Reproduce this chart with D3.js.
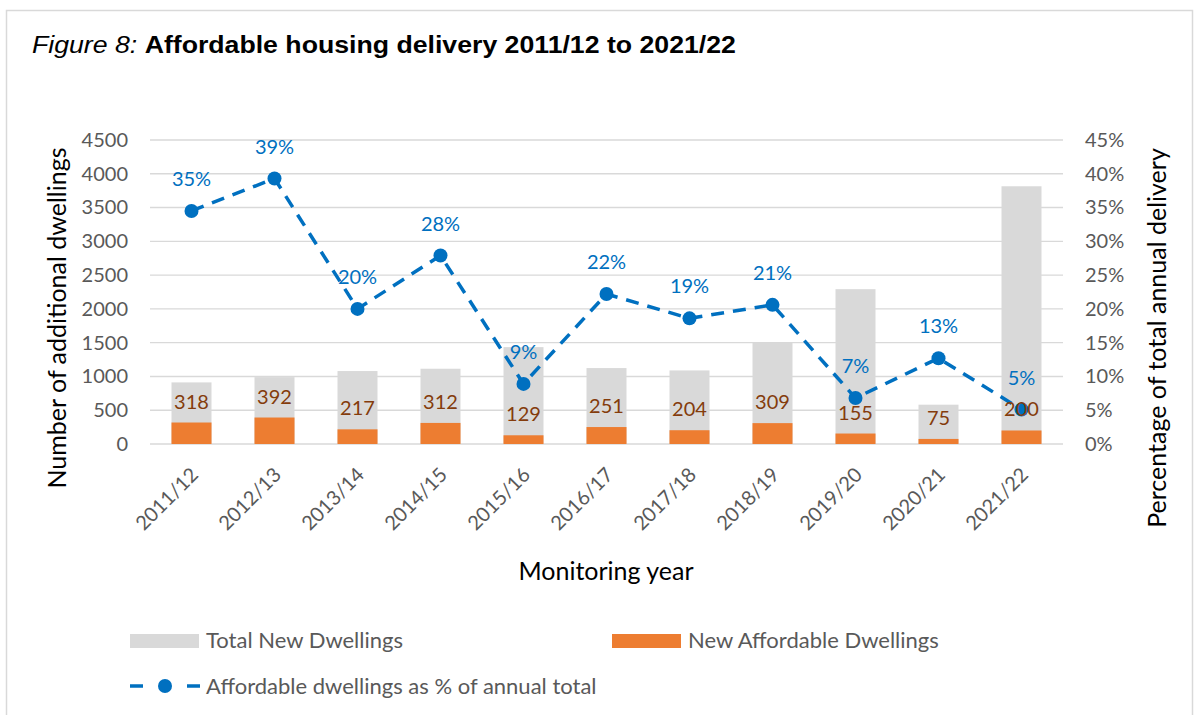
<!DOCTYPE html>
<html>
<head>
<meta charset="utf-8">
<script src="https://cdn.jsdelivr.net/npm/d3@7"></script>
<style>
  body { margin: 0; background: #fff; }
  svg { display: block; }
</style>
</head>
<body>
<div id="chart"></div>
<script>
// monitoring years
const years = ["2011/12","2012/13","2013/14","2014/15","2015/16","2016/17","2017/18","2018/19","2019/20","2020/21","2021/22"];
// total new dwellings
const totalDwellings = [912, 990, 1080, 1114, 1434, 1124, 1089, 1503, 2292, 582, 3815];
// new affordable dwellings (orange bars)
const affordableDwellings = [318, 392, 217, 312, 129, 251, 204, 309, 155, 75, 200];
// affordable as share of total (line)
const affordablePct = [0.345, 0.393, 0.20, 0.279, 0.089, 0.222, 0.186, 0.206, 0.068, 0.127, 0.051];
const pctLabels = ["35%","39%","20%","28%","9%","22%","19%","21%","7%","13%","5%"];
const leftTicks = [0,500,1000,1500,2000,2500,3000,3500,4000,4500];
const rightTicks = [0,0.05,0.10,0.15,0.20,0.25,0.30,0.35,0.40,0.45];

const W = 1199, H = 715;
const plot = {left: 150, right: 1063, top: 140, bottom: 444};
const font = "Lato, 'Open Sans', sans-serif";

const svg = d3.select("#chart").append("svg")
    .attr("width", W).attr("height", H);

svg.append("rect").attr("width", W).attr("height", H).attr("fill", "#fff");
// outer chart frame
svg.append("rect")
    .attr("x", 6.5).attr("y", 10.5)
    .attr("width", 1186).attr("height", 720)
    .attr("fill", "none").attr("stroke", "#d9d9d9").attr("stroke-width", 1.5);

// title (source text is a bit wide, so stretch horizontally)
const title = svg.append("text")
    .attr("transform", "translate(32,53) scale(1.16,1)")
    .attr("font-family", "'Liberation Sans', Arial, sans-serif")
    .attr("font-size", 23).attr("fill", "#000");
title.append("tspan").attr("font-style", "italic").text("Figure 8: ");
title.append("tspan").attr("font-weight", "bold").text("Affordable housing delivery 2011/12 to 2021/22");

const x = d3.scaleBand().domain(years)
    .range([plot.left, plot.right])
    .paddingInner(0.518).paddingOuter(0.259);
const y = d3.scaleLinear().domain([0, 4500]).range([plot.bottom, plot.top]);
const yPct = d3.scaleLinear().domain([0, 0.45]).range([plot.bottom, plot.top]);

// gridlines
svg.append("g").selectAll("line").data(leftTicks).join("line")
    .attr("x1", plot.left).attr("x2", plot.right)
    .attr("y1", d => y(d)).attr("y2", d => y(d))
    .attr("stroke", "#d9d9d9").attr("stroke-width", 1.4);

// left axis
const leftAxis = svg.append("g")
    .attr("transform", "translate(" + plot.left + ",0)")
    .call(d3.axisLeft(y).tickValues(leftTicks).tickSize(0).tickPadding(22).tickFormat(d3.format("d")));
leftAxis.select(".domain").remove();
leftAxis.selectAll("text").attr("font-family", font).attr("font-size", 20).attr("fill", "#595959");

// right axis
const rightAxis = svg.append("g")
    .attr("transform", "translate(" + plot.right + ",0)")
    .call(d3.axisRight(yPct).tickValues(rightTicks).tickSize(0).tickPadding(22).tickFormat(d3.format(".0%")));
rightAxis.select(".domain").remove();
rightAxis.selectAll("text").attr("font-family", font).attr("font-size", 20).attr("fill", "#595959");

// x axis labels
const xAxis = svg.append("g")
    .attr("transform", "translate(0," + plot.bottom + ")")
    .call(d3.axisBottom(x).tickSize(0).tickPadding(0));
xAxis.select(".domain").remove();
xAxis.selectAll("text")
    .attr("font-family", font).attr("font-size", 20).attr("fill", "#595959")
    .attr("text-anchor", "end")
    .attr("dy", null).attr("y", 0)
    .attr("transform", "translate(8,32) rotate(-45)");

// bars
const bars = svg.append("g");
bars.selectAll(".totalBar").data(years).join("rect")
    .attr("class", "totalBar")
    .attr("x", d => x(d)).attr("width", x.bandwidth())
    .attr("y", (d, i) => y(totalDwellings[i]))
    .attr("height", (d, i) => y(0) - y(totalDwellings[i]))
    .attr("fill", "#d9d9d9");
bars.selectAll(".affBar").data(years).join("rect")
    .attr("class", "affBar")
    .attr("x", d => x(d)).attr("width", x.bandwidth())
    .attr("y", (d, i) => y(affordableDwellings[i]))
    .attr("height", (d, i) => y(0) - y(affordableDwellings[i]))
    .attr("fill", "#ed7d31");

// line
const cx = d => x(d) + x.bandwidth() / 2;
const line = d3.line().x(d => cx(d)).y((d, i) => yPct(affordablePct[i]));
svg.append("path").datum(years)
    .attr("d", line)
    .attr("fill", "none").attr("stroke", "#0070c0")
    .attr("stroke-width", 3.5).attr("stroke-dasharray", "13,9");
svg.append("g").selectAll("circle").data(years).join("circle")
    .attr("cx", d => cx(d)).attr("cy", (d, i) => yPct(affordablePct[i]))
    .attr("r", 7).attr("fill", "#0070c0");

// bar value labels
svg.append("g").selectAll("text").data(years).join("text")
    .attr("x", d => cx(d)).attr("y", (d, i) => y(affordableDwellings[i]) - 14)
    .attr("text-anchor", "middle")
    .attr("font-family", font).attr("font-size", 20).attr("fill", "#843c0c")
    .text((d, i) => affordableDwellings[i]);

// percent labels
svg.append("g").selectAll("text").data(years).join("text")
    .attr("x", d => cx(d)).attr("y", (d, i) => yPct(affordablePct[i]) - 25)
    .attr("text-anchor", "middle")
    .attr("font-family", font).attr("font-size", 20).attr("fill", "#0070c0")
    .text((d, i) => pctLabels[i]);

// axis titles
svg.append("text")
    .attr("transform", "translate(66,318) rotate(-90)")
    .attr("text-anchor", "middle")
    .attr("font-family", font).attr("font-size", 25).attr("fill", "#000")
    .text("Number of additional dwellings");
svg.append("text")
    .attr("transform", "translate(1166,338) rotate(-90)")
    .attr("text-anchor", "middle")
    .attr("font-family", font).attr("font-size", 25).attr("fill", "#000")
    .text("Percentage of total annual delivery");
svg.append("text")
    .attr("x", 606).attr("y", 580)
    .attr("text-anchor", "middle")
    .attr("font-family", font).attr("font-size", 25).attr("fill", "#000")
    .text("Monitoring year");

// legend
const legend = svg.append("g").attr("font-family", font).attr("font-size", 22).attr("fill", "#595959");
legend.append("rect").attr("x", 130).attr("y", 634).attr("width", 69).attr("height", 14).attr("fill", "#d9d9d9");
legend.append("text").attr("x", 206).attr("y", 648).text("Total New Dwellings");
legend.append("rect").attr("x", 612).attr("y", 634).attr("width", 69).attr("height", 14).attr("fill", "#ed7d31");
legend.append("text").attr("x", 688).attr("y", 648).text("New Affordable Dwellings");
legend.append("line").attr("x1", 130).attr("x2", 200).attr("y1", 686).attr("y2", 686)
    .attr("stroke", "#0070c0").attr("stroke-width", 3.5).attr("stroke-dasharray", "13,22,0,22,13");
legend.append("circle").attr("cx", 165).attr("cy", 686).attr("r", 7).attr("fill", "#0070c0");
legend.append("text").attr("x", 206).attr("y", 694).text("Affordable dwellings as % of annual total");
</script>
</body>
</html>
